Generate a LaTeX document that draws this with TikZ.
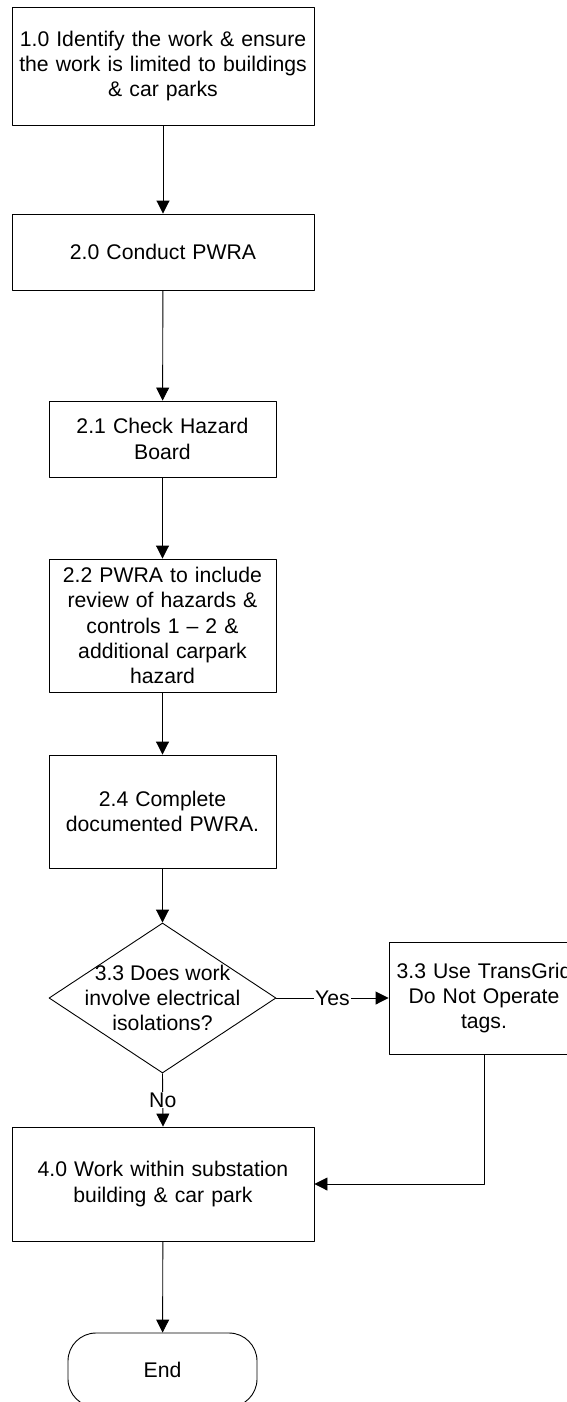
\documentclass[tikz,border=0pt]{standalone}
\usepackage{fontspec}
\setmainfont{Liberation Sans}
\usetikzlibrary{arrows.meta,shapes.geometric}
\begin{document}
\begin{tikzpicture}[x=1pt,y=-1pt,line join=round,>={Triangle[length=13pt,width=13pt]},
	font=\fontsize{21.2pt}{25.3pt}\selectfont]
	\tikzset{every node/.style={align=center,inner sep=0pt},
		box/.style={draw,line width=0.9pt,minimum width=#1,text width=#1},
		box/.default=302pt,
		decision/.style={draw,diamond,line width=0.9pt,minimum width=227pt,minimum height=150pt},
		term/.style={draw,line width=0.9pt,rounded corners=28pt,minimum width=189pt,minimum height=74pt},
		lbl/.style={fill=white,inner sep=1pt}}
	\useasboundingbox (0,0) rectangle (567,1402);
	\clip (0,0) rectangle (567,1402);
	% steps
	\node[box,minimum height=118pt] (s10) at (163,66) {1.0 Identify the work \& ensure\\the work is limited to buildings\\\& car parks};
	\node[box,minimum height=76pt] (s20) at (163,252) {2.0 Conduct PWRA};
	\node[box=227pt,minimum height=76pt] (s21) at (162.5,439) {2.1 Check Hazard\\Board};
	\node[box=227pt,minimum height=133pt] (s22) at (162.5,625.5) {2.2 PWRA to include\\review of hazards \&\\controls 1 -- 2 \&\\additional carpark\\hazard};
	\node[box=227pt,minimum height=113pt] (s24) at (162.5,811.5) {2.4 Complete\\documented PWRA.};
	\node[decision] (q33) at (162.5,998) {};
	\node (q33t) at (q33.center) {3.3 Does work\\involve electrical\\isolations?};
	\node[box=190pt,minimum height=112pt] (s33) at (484,998) {3.3 Use TransGrid\\Do Not Operate\\tags.};
	\node[box,minimum height=114pt] (s40) at (163,1184) {4.0 Work within substation\\building \& car park};
	\node[term] (end) at (162.5,1370) {End};
	% arrows
	\draw[->,line width=0.9pt] (s10) -- (s20);
	\draw[->,line width=0.9pt] (s20) -- (s21);
	\draw[->,line width=0.9pt] (s21) -- (s22);
	\draw[->,line width=0.9pt] (s22) -- (s24);
	\draw[->,line width=0.9pt] (s24) -- (q33);
	\draw[->,line width=0.9pt] (q33.east) -- node[lbl] (yes) {Yes} (s33.west);
	\draw[->,line width=0.9pt] (q33.south) -- node[lbl] (no) {No} (s40.north);
	\draw[->,line width=0.9pt] (s33.south) |- (s40.east);
	\draw[->,line width=0.9pt] (s40) -- (end);
\end{tikzpicture}
\end{document}
